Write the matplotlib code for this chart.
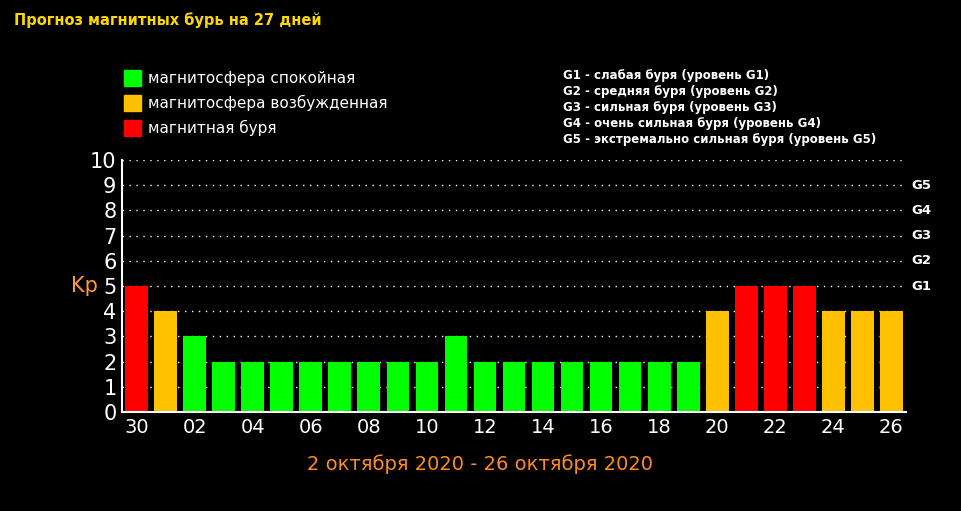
import matplotlib
matplotlib.use("Agg")
import matplotlib.pyplot as plt
from matplotlib.patches import Rectangle

days = ["30","01","02","03","04","05","06","07","08","09","10","11","12","13","14","15","16","17","18","19","20","21","22","23","24","25","26"]
kp = [5,4,3,2,2,2,2,2,2,2,2,3,2,2,2,2,2,2,2,2,4,5,5,5,4,4,4]
g_labels = ["G1","G2","G3","G4","G5"]
g_levels = [5,6,7,8,9]
legend_items = ["магнитосфера спокойная","магнитосфера возбужденная","магнитная буря"]
g_desc = ["G1 - слабая буря (уровень G1)","G2 - средняя буря (уровень G2)","G3 - сильная буря (уровень G3)",
          "G4 - очень сильная буря (уровень G4)","G5 - экстремально сильная буря (уровень G5)"]

GREEN, ORANGE, RED = "#00ff00", "#ffc000", "#ff0000"
def col(v):
    return RED if v >= 5 else (ORANGE if v == 4 else GREEN)

W, H = 961, 511
fig = plt.figure(figsize=(W/100, H/100), dpi=100, facecolor="black")
ax = fig.add_axes([122/W, 1-412/H, (906-122)/W, (412-160)/H], facecolor="black")
x = list(range(len(days)))
for v in range(1, 11):
    ax.axhline(v, color="white", lw=1, ls=(0, (1, 4)), zorder=0)
ax.bar(x, kp, width=0.78, color=[col(v) for v in kp], zorder=2)
ax.set_xlim(-0.5, len(days)-0.5)
ax.set_ylim(0, 10)
ax.set_yticks(range(11))
ax.set_yticklabels([str(i) for i in range(11)], fontsize=15, color="white")
ax.set_xticks(x[::2])
ax.set_xticklabels(days[::2], fontsize=14, color="white")
ax.tick_params(length=0, pad=4)
for s in ["top", "right"]:
    ax.spines[s].set_visible(False)
for s in ["left", "bottom"]:
    ax.spines[s].set_color("white"); ax.spines[s].set_linewidth(1.5)
for g, lv in zip(g_labels, g_levels):
    ax.text(1.007, lv, g, transform=ax.get_yaxis_transform(), color="white",
            fontsize=9.5, fontweight="bold", va="center", ha="left")
ax.text(-0.065, 5, "Kp", transform=ax.get_yaxis_transform(), color="#ff9933", fontsize=15, va="center")

fig.text(14/W, 1-20/H, "Прогноз магнитных бурь на 27 дней", color="#ffd700", fontsize=10.5,
         fontweight="bold", va="center")
for i, (t, c) in enumerate(zip(legend_items, [GREEN, ORANGE, RED])):
    y = 78 + i*25
    fig.patches.append(Rectangle((124/W, 1-(y+8)/H), 17/W, 16/H, transform=fig.transFigure, color=c))
    fig.text(148/W, 1-y/H, t, color="white", fontsize=11, va="center")
for i, t in enumerate(g_desc):
    fig.text(563/W, 1-(76+16*i)/H, t, color="white", fontsize=8.5, fontweight="bold", va="center")
fig.text(480/W, 1-464/H, "2 октября 2020 - 26 октября 2020", color="#ff8c1a", fontsize=14,
         ha="center", va="center")
fig.savefig("out.png", dpi=100, facecolor="black")
